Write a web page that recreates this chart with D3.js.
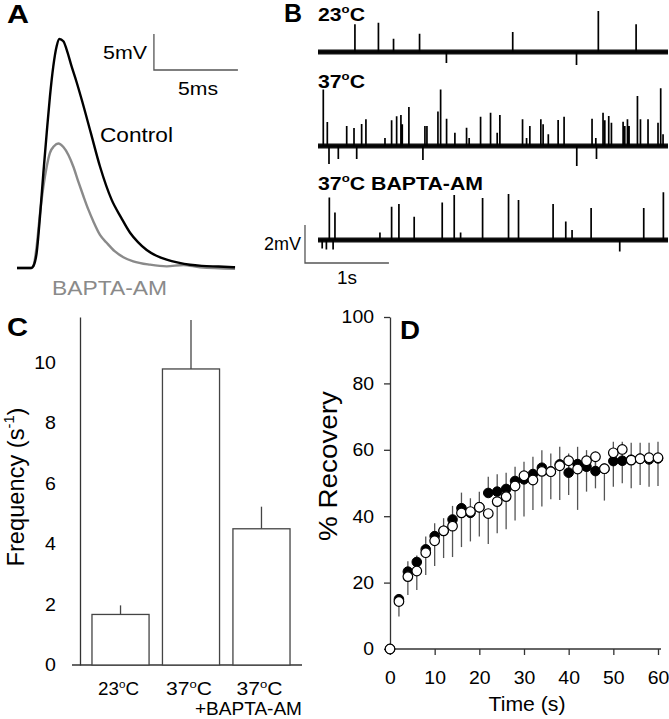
<!DOCTYPE html>
<html><head><meta charset="utf-8">
<script src="https://cdn.jsdelivr.net/npm/d3@7"></script>
<style>body{margin:0;background:#fff}svg{display:block}</style>
</head><body><svg id="c" width="669" height="719"></svg>
<script>
// ================= DATA =================
// Panel A: averaged EPSPs (time in ms, voltage in mV)
const epspTimeControl = [0,0.85,0.97,1.17,1.37,1.57,1.77,1.96,2.16,2.36,2.52,2.76,2.96,3.25,3.55,3.85,4.39,4.94,5.63,6.2,6.73,7.2,7.72,8.3,8.91,9.6,10.3,11,12,12.98];
const epspControl     = [0,0,0.25,2.1,7.2,13.2,18.8,23.8,28,30.8,31.8,31.5,30.3,28.0,25.8,23.4,18.8,14.1,9.5,7.0,4.9,3.6,2.5,1.7,1.16,0.75,0.46,0.3,0.2,0.1];
const epspTimeBapta   = [0,0.85,0.97,1.17,1.37,1.57,1.77,1.96,2.2,2.46,2.76,3.06,3.35,3.65,3.95,4.25,4.54,4.94,5.34,5.83,6.33,6.92,7.92,8.91,9.9,10.89,12.98];
const epspBapta       = [0,0,0.23,3.0,7.6,11.3,14.1,16.0,16.9,17.3,16.8,15.7,14.1,12.0,10.0,8.1,6.5,4.6,3.5,2.3,1.5,0.93,0.46,0.23,0.42,0.1,-0.1];

// Panel B: spontaneous events (time in s, amplitude in mV)
const traceLabels = ["23ºC","37ºC","37ºC BAPTA-AM"];
const ev23Time = [0.44,0.72,0.90,1.21,1.53,2.32,3.08,3.34,3.79];
const ev23Amp  = [1.46,1.54,0.70,0.96,-0.58,1.05,-0.68,2.16,1.46];
const ev37Time = [0.063,0.111,0.131,0.242,0.342,0.429,0.461,0.520,0.571,0.798,0.877,0.937,0.988,1.004,1.083,1.25,1.274,1.298,1.429,1.461,1.532,1.631,1.770,1.801,1.937,2.056,2.135,2.167,2.437,2.485,2.524,2.655,2.682,2.744,2.861,2.932,3.083,3.265,3.310,3.318,3.396,3.417,3.464,3.496,3.635,3.655,3.687,3.706,3.806,3.842,3.932,4.051,4.083,4.111];
const ev37Amp  = [2.98,1.26,-0.95,-0.68,1.05,0.95,-0.68,1.16,1.41,0.42,1.35,1.56,1.63,1.14,2.05,-0.74,1.05,1.05,1.81,2.98,1.44,0.70,0.96,0.42,1.54,1.75,0.70,1.63,1.41,0.42,1.05,1.41,1.14,0.62,1.37,1.54,-1.05,1.44,0.42,-0.68,1.75,1.35,1.58,1.23,1.28,1.05,1.41,1.05,2.63,1.41,1.41,1.23,3.04,0.62];
const evBaptaTime = [0.05,0.10,0.135,0.18,0.202,0.738,0.877,0.964,1.146,1.480,1.623,1.699,1.961,2.270,2.389,2.801,2.952,3.027,3.254,3.595,3.881,4.115];
const evBaptaAmp  = [-0.45,-0.5,2.24,-0.5,1.45,0.40,1.75,1.89,1.23,1.98,2.37,0.40,2.21,2.42,2.11,1.89,0.98,0.53,1.68,-0.6,1.68,2.51];
const traceSeconds = 4.17;

// Panel C: event frequency
const freqCatLine1 = ["23ºC","37ºC","37ºC"];
const freqCatLine2 = ["","","+BAPTA-AM"];
const freqMean = [1.67, 9.78, 4.5];
const freqSem  = [0.30, 1.62, 0.73];
const freqTicks = [0,2,4,6,8,10];

// Panel D: % recovery
const recTime   = [0,2,4,6,8,10,12,14,16,18,20,22,24,26,28,30,32,34,36,38,40,42,44,46,48,50,52,54,56,58,60];
const recFilled = [0,15,23.3,26.2,30,34,35.6,39,42.4,41,42.7,47,47.4,48.2,50.6,51.1,52.7,54.6,53.5,55.6,53.1,55.7,54.9,53.6,54.3,56.6,56.7,57,57.3,57.1,57.4];
const recFilledErr = [0,1.5,3.1,2.0,3.9,3.9,3.8,4.1,4.7,4.4,4.7,4.9,5.2,4.9,4.3,5.3,5.2,5.3,5.4,5.3,5.8,5.2,5.0,5.8,0.6,5.8,5.7,5.1,4.8,5.0,5.0];
const recOpen   = [0,14.3,21.8,23.5,29,32.6,35.6,37,41,41.4,42.7,40.8,44.4,45.9,49.1,52.2,50.9,53.5,53.4,55.2,56.7,54.2,56.7,57.9,54.3,59.1,60.1,56.9,57.3,57.6,57.6];
const recOpenErr = [0,4.5,5.5,5.7,6.7,7.6,8.2,9.3,10.3,9.0,8.8,9.2,9.5,9.8,10.4,12.3,9.0,10.6,8.3,10.3,10.3,12.3,9.3,9.5,9.6,10.2,10.2,8.5,7.9,8.7,8.5];
const recXTicks = [0,10,20,30,40,50,60];
const recYTicks = [0,20,40,60,80,100];

// ================= HELPERS =================
const FONT = '"Liberation Sans", Arial, Helvetica, sans-serif';
const svg = d3.select("#c");
const AX = "#333";

function parts(str){
  const out=[]; str.split("º").forEach((s,i)=>{ if(i>0) out.push({sup:"o"}); if(s) out.push(s); });
  return out;
}
function addText(g, content, x, y, o={}){
  const size=o.size||17;
  const t=g.append("text").attr("x",x).attr("y",y).attr("font-size",size)
    .attr("font-family",FONT).attr("fill",o.fill||"#000").attr("text-anchor",o.anchor||"start");
  if(o.bold) t.attr("font-weight","bold");
  if(o.rotate) t.attr("transform",`rotate(-90,${x},${y})`);
  if(o.len) t.attr("textLength",o.len).attr("lengthAdjust","spacingAndGlyphs");
  const list=Array.isArray(content)?content:parts(content);
  let raised=0;
  list.forEach(p=>{
    const ts=t.append("tspan");
    if(typeof p==="string"){ if(raised){ts.attr("dy",raised);raised=0;} ts.text(p); }
    else { const r=size*0.42; ts.attr("dy",-r).attr("font-size",size*0.62).text(p.sup); raised=r; }
  });
  return t;
}
function styleTicks(g, size, digitW){
  g.selectAll(".tick text").attr("font-size",size).attr("font-family",FONT).attr("fill","#000")
    .attr("textLength",function(){return this.textContent.length*digitW;})
    .attr("lengthAdjust","spacingAndGlyphs");
  g.selectAll("path.domain, .tick line").attr("stroke",AX).attr("stroke-width",1.3);
}

// ================= PANEL A =================
const gA = svg.append("g");
const xA = d3.scaleLinear().domain([0,13]).range([17,17+13*16.8]);
const yA = d3.scaleLinear().domain([0,35]).range([268,268-35*7.2]);
const lineA = d3.line().x(d=>xA(d[0])).y(d=>yA(d[1])).curve(d3.curveMonotoneX);
gA.append("path").attr("d",lineA(epspTimeBapta.map((t,i)=>[t,epspBapta[i]])))
  .attr("fill","none").attr("stroke","#8a8a8a").attr("stroke-width",2.4);
gA.append("path").attr("d",lineA(epspTimeControl.map((t,i)=>[t,epspControl[i]])))
  .attr("fill","none").attr("stroke","#000").attr("stroke-width",2.4);
// scale bars 5 mV / 5 ms
const sbT=8.15, sbV=27.5;
gA.append("path").attr("d",`M${xA(sbT)},${yA(sbV+5)}V${yA(sbV)}H${xA(sbT+5)}`)
  .attr("fill","none").attr("stroke","#555").attr("stroke-width",1.3);
addText(gA,"A",7,23,{size:25,bold:true,len:22});
addText(gA,"5mV",103,59,{size:19,len:44});
addText(gA,"5ms",178,95,{size:19,len:40});
addText(gA,"Control",100,142,{size:21,len:73});
addText(gA,"BAPTA-AM",52,295,{size:21,len:115,fill:"#8a8a8a"});

// ================= PANEL B =================
const gB = svg.append("g");
const xB = d3.scaleLinear().domain([0,traceSeconds]).range([318,668]);
const traces = [
  {label:traceLabels[0], times:ev23Time, amps:ev23Amp, base:52, labelY:21, len:47},
  {label:traceLabels[1], times:ev37Time, amps:ev37Amp, base:146, labelY:88, len:47},
  {label:traceLabels[2], times:evBaptaTime, amps:evBaptaAmp, base:240, labelY:190, len:165}
];
traces.forEach(tr=>{
  const yb = d3.scaleLinear().domain([0,1]).range([tr.base,tr.base-19]);
  const ln = d3.line().x(d=>xB(d[0])).y(d=>yb(d[1]));
  gB.append("path").attr("d",ln([[0,0],[traceSeconds,0]]))
    .attr("stroke","#111").attr("stroke-width",5).attr("fill","none");
  const pts=[[0,0]];
  tr.times.forEach((t,i)=>{pts.push([t,0],[t,tr.amps[i]],[t,0]);});
  pts.push([traceSeconds,0]);
  gB.append("path").attr("d",ln(pts)).attr("fill","none").attr("stroke","#000")
    .attr("stroke-width",1.7).attr("stroke-linejoin","bevel");
  addText(gB,tr.label,318,tr.labelY,{size:18.5,bold:true,len:tr.len});
});
// scale bars 2 mV / 1 s
const ybS = d3.scaleLinear().domain([0,1]).range([263,263-19]);
const sbB0 = -0.155;
gB.append("path").attr("d",`M${xB(sbB0)},${ybS(2)}V${ybS(0)}H${xB(sbB0+1)}`)
  .attr("fill","none").attr("stroke","#555").attr("stroke-width",1.3);
addText(gB,"B",284,22,{size:25,bold:true,len:18});
addText(gB,"2mV",301,250,{size:19,anchor:"end",len:37});
addText(gB,"1s",337,284,{size:19,len:20});

// ================= PANEL C =================
const gC = svg.append("g");
const freqCats = freqCatLine1.map((d,i)=>(d+" "+freqCatLine2[i]).trim());
const xC = d3.scaleBand().domain(freqCats).range([80,302]).paddingInner(0.19).paddingOuter(0.17);
const yC = d3.scaleLinear().domain([0,11.5]).range([665,665-11.5*30.27]);
const gCx = gC.append("g").attr("transform","translate(0,665)")
  .call(d3.axisBottom(xC).tickSize(0).tickSizeOuter(0).tickFormat(""));
gCx.select("path.domain").attr("d","M72,0H302");
const gCy = gC.append("g").attr("transform","translate(80,0)")
  .call(d3.axisLeft(yC).tickValues(freqTicks).tickSize(0).tickSizeOuter(0).tickPadding(24));
styleTicks(gCx,18.5,10.8); styleTicks(gCy,18.5,10.9);
// error bars (upward) then bars
gC.selectAll("line.err").data(freqCats).join("line").attr("class","err")
  .attr("x1",d=>xC(d)+xC.bandwidth()/2).attr("x2",d=>xC(d)+xC.bandwidth()/2)
  .attr("y1",(d,i)=>yC(freqMean[i])).attr("y2",(d,i)=>yC(freqMean[i]+freqSem[i]))
  .attr("stroke","#444").attr("stroke-width",1.3);
gC.selectAll("rect.bar").data(freqCats).join("rect").attr("class","bar")
  .attr("x",d=>xC(d)).attr("width",xC.bandwidth())
  .attr("y",(d,i)=>yC(freqMean[i])).attr("height",(d,i)=>yC(0)-yC(freqMean[i]))
  .attr("fill","#fff").attr("stroke","#444").attr("stroke-width",1.3);
const catLens=[41,46,46];
freqCats.forEach((c,i)=>{
  const cx=xC(c)+xC.bandwidth()/2;
  addText(gC,freqCatLine1[i],cx-2,695,{size:17.5,anchor:"middle",len:catLens[i]});
  if(freqCatLine2[i]) addText(gC,freqCatLine2[i],cx-13,714.5,{size:17.5,anchor:"middle",len:107});
});
addText(gC,"C",7,336,{size:25,bold:true,len:21});
addText(gC,["Frequency (s",{sup:"-1"},")"],24,487,{size:24,anchor:"middle",rotate:true,len:159});

// ================= PANEL D =================
const gD = svg.append("g");
const xD = d3.scaleLinear().domain([0,60]).range([390,658]);
const yD = d3.scaleLinear().domain([0,100]).range([649,317]);
const gDx = gD.append("g").attr("transform","translate(0,649)")
  .call(d3.axisBottom(xD).tickValues(recXTicks).tickSize(6).tickSizeOuter(0).tickPadding(16));
gDx.select("path.domain").attr("d","M390,0H661");
const gDy = gD.append("g").attr("transform","translate(390,0)")
  .call(d3.axisLeft(yD).tickValues(recYTicks).tickSize(6).tickSizeOuter(0).tickPadding(10));
styleTicks(gDx,18.5,10.8); styleTicks(gDy,18.5,10.8);
// error bars
gD.selectAll("line.ef").data(recTime).join("line").attr("class","ef")
  .attr("x1",d=>xD(d)).attr("x2",d=>xD(d))
  .attr("y1",(d,i)=>yD(recFilled[i])).attr("y2",(d,i)=>yD(recFilled[i]+recFilledErr[i]))
  .attr("stroke","#555").attr("stroke-width",1.3);
gD.selectAll("line.eo").data(recTime).join("line").attr("class","eo")
  .attr("x1",d=>xD(d)).attr("x2",d=>xD(d))
  .attr("y1",(d,i)=>yD(recOpen[i])).attr("y2",(d,i)=>yD(recOpen[i]-recOpenErr[i]))
  .attr("stroke","#555").attr("stroke-width",1.3);
gD.selectAll("circle.f").data(recTime).join("circle").attr("class","f")
  .attr("cx",d=>xD(d)).attr("cy",(d,i)=>yD(recFilled[i])).attr("r",4.8)
  .attr("fill","#000").attr("stroke","#000").attr("stroke-width",1);
gD.selectAll("circle.o").data(recTime).join("circle").attr("class","o")
  .attr("cx",d=>xD(d)).attr("cy",(d,i)=>yD(recOpen[i])).attr("r",4.8)
  .attr("fill","#fff").attr("stroke","#000").attr("stroke-width",1.2);
addText(gD,"D",400,339,{size:25,bold:true,len:20});
addText(gD,"% Recovery",337,466,{size:25,anchor:"middle",rotate:true,len:150});
addText(gD,"Time (s)",527,711,{size:21,anchor:"middle",len:77});
</script></body></html>
